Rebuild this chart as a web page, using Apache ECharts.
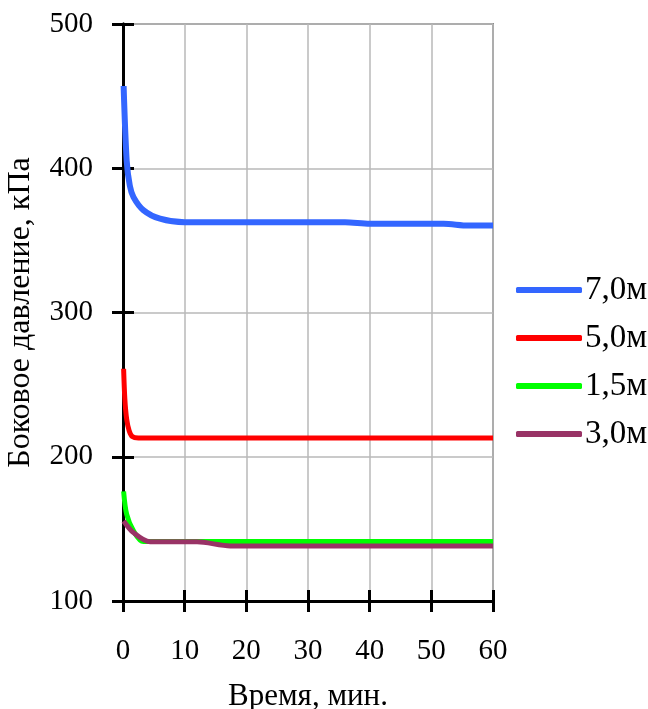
<!DOCTYPE html>
<html><head><meta charset="utf-8">
<script src="https://cdn.jsdelivr.net/npm/echarts@6/dist/echarts.min.js"></script>
<style>html,body{margin:0;padding:0;background:#fff}#c{width:648px;height:709px}</style>
</head><body><div id="c"></div>
<script>
const seriesNames = ['7,0м', '5,0м', '1,5м', '3,0м'];
const xTicks = [0, 10, 20, 30, 40, 50, 60];
const yTicks = [100, 200, 300, 400, 500];
const t70 = [0.1, 0.6, 1.1, 1.7, 3.3, 6, 10, 36, 40, 52, 56, 60];
const v70 = [457, 405, 388, 380, 371, 365, 362.5, 362.5, 361.5, 361.5, 360.3, 360.3];
const t50 = [0.1, 0.3, 0.6, 1.0, 1.5, 2.5, 60];
const v50 = [261, 240, 226, 218, 214, 213, 213];
const t15 = [0.1, 0.6, 1.7, 3.3, 60];
const v15 = [176, 160, 148.6, 141.2, 141.2];
const t30 = [0.1, 1.7, 4.4, 12, 17.4, 60];
const v30 = [155.5, 147.4, 141, 141, 138.2, 138.2];
const colors = ['#3366ff', '#ff0000', '#00ff00', '#993366'];

const zip = (t, v) => t.map((x, i) => [x, v[i]]);
const data = [zip(t70, v70), zip(t50, v50), zip(t15, v15), zip(t30, v30)];
const FONT = 'Liberation Serif';

const chart = echarts.init(document.getElementById('c'));
const axisCommon = {
  type: 'value',
  axisLine: { show: true, lineStyle: { color: '#000', width: 3 } }
};
chart.setOption({
  animation: false,
  textStyle: { fontFamily: FONT },
  grid: { left: 123, right: 155, top: 24, bottom: 108, show: true, borderColor: '#8c8c8c', borderWidth: 2, outerBoundsMode: 'none', containLabel: false },
  legend: {
    orient: 'vertical', left: 511, top: 267, itemWidth: 66, itemHeight: 6, itemGap: 12,
    icon: 'roundRect',
    textStyle: { fontFamily: FONT, fontSize: 33, color: '#000', lineHeight: 36, padding: [0, 0, 0, -2] },
    data: seriesNames
  },
  xAxis: [
    Object.assign({}, axisCommon, {
      min: xTicks[0], max: xTicks[xTicks.length - 1], interval: 10,
      name: 'Время, мин.', nameLocation: 'middle', nameGap: 80,
      nameTextStyle: { fontFamily: FONT, fontSize: 31, color: '#000' },
      axisTick: { show: true, inside: false, length: 11, lineStyle: { color: '#000', width: 3 } },
      axisLabel: { fontFamily: FONT, fontSize: 29, color: '#000', margin: 36 },
      splitLine: { show: true, lineStyle: { color: '#b8b8b8', width: 1.5 } }
    }),
    Object.assign({}, axisCommon, {
      min: xTicks[0], max: xTicks[xTicks.length - 1], interval: 10, position: 'bottom',
      axisTick: { show: true, inside: true, length: 11, lineStyle: { color: '#000', width: 3 } },
      axisLabel: { show: false }, splitLine: { show: false }
    })
  ],
  yAxis: [
    Object.assign({}, axisCommon, {
      min: yTicks[0], max: yTicks[yTicks.length - 1], interval: 100,
      name: 'Боковое давление, кПа', nameLocation: 'middle', nameGap: 86,
      nameTextStyle: { fontFamily: FONT, fontSize: 32, color: '#000' },
      axisTick: { show: true, inside: false, length: 11, lineStyle: { color: '#000', width: 3 } },
      axisLabel: { fontFamily: FONT, fontSize: 29, color: '#000', margin: 30 },
      splitLine: { show: true, lineStyle: { color: '#b8b8b8', width: 1.5 } }
    }),
    Object.assign({}, axisCommon, {
      min: yTicks[0], max: yTicks[yTicks.length - 1], interval: 100, position: 'left',
      axisTick: { show: true, inside: true, length: 11, lineStyle: { color: '#000', width: 3 } },
      axisLabel: { show: false }, splitLine: { show: false }
    })
  ],
  series: seriesNames.map((n, i) => ({
    name: n, type: 'line', data: data[i], showSymbol: false, symbol: 'none',
    smooth: 0.3, lineStyle: { color: colors[i], width: i === 0 ? 6 : 5 },
    itemStyle: { color: colors[i] }, z: 3 + i
  }))
});
</script></body></html>
